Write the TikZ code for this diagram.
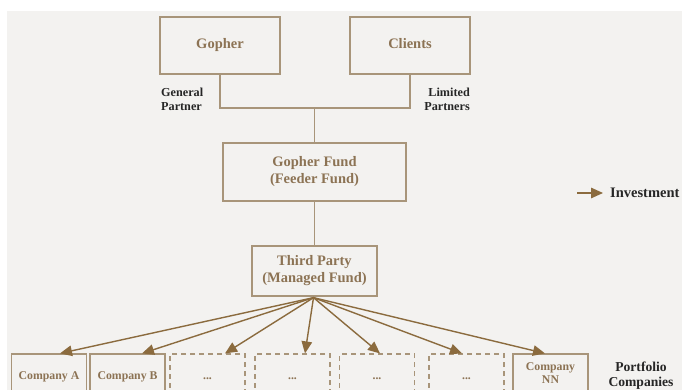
\documentclass[tikz,border=0pt]{standalone}
\usepackage{fontspec}
\setmainfont{Liberation Serif}
\usetikzlibrary{arrows.meta,calc}
\definecolor{bg}{HTML}{F3F2F0}
\definecolor{boxline}{HTML}{A8957A}
\definecolor{boxtext}{HTML}{8C7354}
\definecolor{arrowc}{HTML}{8B6B3E}
\tikzset{
  bigbox/.style={draw=boxline, line width=1.3pt, text=boxtext, align=center, inner sep=0pt,
    font=\bfseries\fontsize{14.5}{17}\selectfont},
  cobox/.style={draw=boxline, line width=1.2pt, text=boxtext, align=center, inner sep=0pt,
    minimum width=75pt, minimum height=46pt, font=\bfseries\fontsize{11.8}{12.5}\selectfont},
  dbox/.style={cobox, dash pattern=on 5pt off 4pt},
  conn/.style={draw=boxline, line width=1.3pt},
  arr/.style={draw=arrowc, line width=1.4pt, -{Triangle[length=12pt,width=10.5pt]}},
  lbl/.style={text=black!85, font=\bfseries\fontsize{12.2}{14}\selectfont, inner sep=0pt},
}
\begin{document}
\begin{tikzpicture}[x=1pt,y=-1pt]
\useasboundingbox (0,0) rectangle (682,390);
\fill[bg] (7,11) rectangle (682,390);
\begin{scope}
\clip (0,0) rectangle (682,390);
\node[bigbox, minimum width=120pt, minimum height=57pt] (gopher) at (220,45.5) {\strut Gopher};
\node[bigbox, minimum width=120pt, minimum height=57pt] (clients) at (410,45.5) {\strut Clients};
\node[bigbox, minimum width=183pt, minimum height=58pt] (fund) at (314.5,172) {Gopher Fund\\(Feeder Fund)};
\node[bigbox, minimum width=125pt, minimum height=50pt] (third) at (314.5,271) {Third Party\\(Managed Fund)};
\coordinate (join) at (314.5,108);
\draw[conn] (gopher.south) |- (join) -| (clients.south);
\draw[conn] (join) -- (fund.north);
\draw[conn] (fund.south) -- (third.north);
\node[lbl, anchor=west, align=left] (gp) at (161,99) {General\\Partner};
\node[lbl, anchor=east, align=right] (lp) at (470,99) {Limited\\Partners};
\node[cobox] (ca) at (49,377) {\strut Company A};
\node[cobox] (cb) at (127.5,377) {\strut Company B};
\node[dbox] (d1) at (207.5,377) {\strut ...};
\node[dbox] (d2) at (292.5,377) {\strut ...};
\node[dbox] (d3) at (377,377) {\strut ...};
\node[dbox] (d4) at (466.5,377) {\strut ...};
\node[cobox, minimum height=38pt] (cn) at (550.5,373) {Company\\NN};
\coordinate (src) at ($(third.south)+(-1,1)$);
\draw[arr] (src) -- ([xshift=11pt]ca.north);
\draw[arr] (src) -- ([xshift=14.5pt]cb.north);
\draw[arr] (src) -- ([xshift=17.5pt]d1.north);
\draw[arr] (src) -- ([xshift=12.5pt]d2.north);
\draw[arr] (src) -- ([xshift=3pt]d3.north);
\draw[arr] (src) -- ([xshift=-4.5pt]d4.north);
\draw[arr] (src) -- ([xshift=-5.5pt]cn.north);
\node[lbl, align=center, font=\bfseries\fontsize{13.6}{15}\selectfont] (pc) at (641,375.5) {Portfolio\\Companies};
\coordinate (legs) at (577,193);
\node[lbl, anchor=west, font=\bfseries\fontsize{14.5}{17}\selectfont] (inv) at (610,193) {Investment};
\draw[arr] (legs) -- ([xshift=-7pt]inv.west);
\end{scope}
\end{tikzpicture}
\end{document}
